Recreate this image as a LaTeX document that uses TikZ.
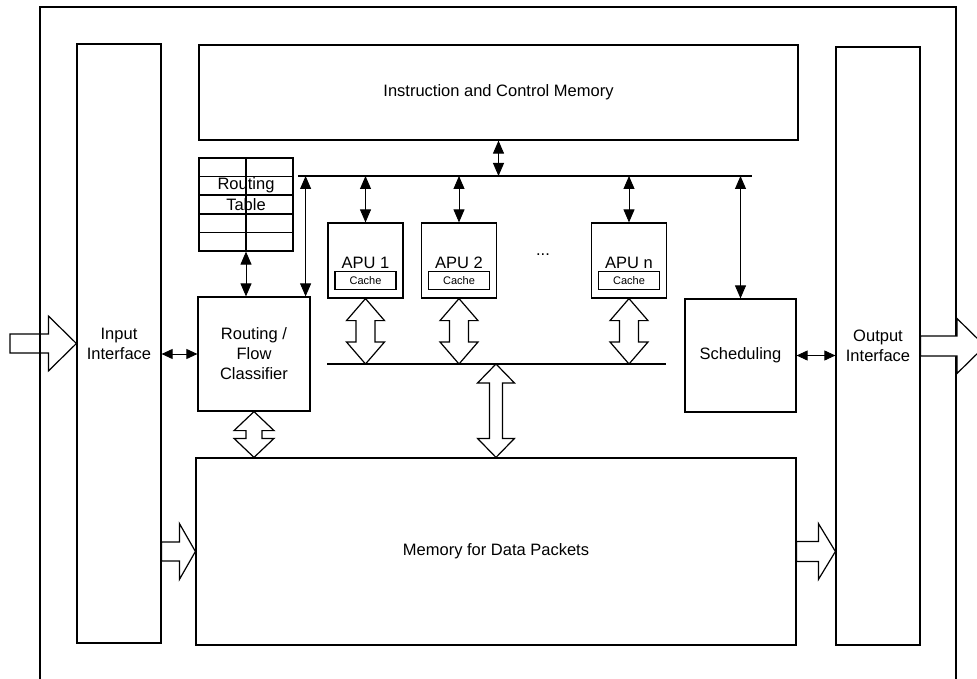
\documentclass[tikz,border=0pt]{standalone}
\usepackage{fontspec}
\setmainfont{Liberation Sans}
\usetikzlibrary{calc,arrows.meta}

\begin{document}
\begin{tikzpicture}[x=1pt,y=-1pt,
  font=\fontsize{16.5}{20}\selectfont, line width=1.2pt,
  box/.style={draw,fill=white,align=center,inner sep=0pt},
  cache/.style={draw,font=\fontsize{11}{13}\selectfont,minimum width=61pt,minimum height=18pt,inner sep=0pt},
  darr/.style={{Triangle[length=13pt,width=11pt]}-{Triangle[length=13pt,width=11pt]},line width=0.9pt},
  harr/.style={{Triangle[length=11pt,width=10pt]}-{Triangle[length=11pt,width=10pt]},line width=0.9pt},
  hollowv/.style n args={3}{fill=white,to path={let \p1=(\tikztostart),\p2=(\tikztotarget) in
    (\x1,\y1) -- (\x1+#1pt,\y1-#3pt) -- (\x1+#2pt,\y1-#3pt) -- (\x1+#2pt,\y2+#3pt) -- (\x1+#1pt,\y2+#3pt) -- (\x1,\y2)
    -- (\x1-#1pt,\y2+#3pt) -- (\x1-#2pt,\y2+#3pt) -- (\x1-#2pt,\y1-#3pt) -- (\x1-#1pt,\y1-#3pt) -- cycle}},
  hollowh/.style n args={3}{fill=white,to path={let \p1=(\tikztostart),\p2=(\tikztotarget) in
    (\x1,\y2+#2pt) -- (\x2-#3pt,\y2+#2pt) -- (\x2-#3pt,\y2+#1pt) -- (\x2,\y2) -- (\x2-#3pt,\y2-#1pt)
    -- (\x2-#3pt,\y2-#2pt) -- (\x1,\y2-#2pt) -- cycle}}]

  \clip (0,0) rectangle (977,679);

  % main blocks
  \node[box,minimum width=84pt,minimum height=599pt] (inp) at (119,343.5) {Input\\Interface};
  \node[box,minimum width=599pt,minimum height=95pt] (icm) at (498.5,92.5) {Instruction and Control Memory};
  \node[box,minimum width=84pt,minimum height=598pt] (outi) at (878,346) {Output\\Interface};
  \node[box,minimum width=112pt,minimum height=114pt] (rfc) at (254,354) {Routing /\\Flow\\Classifier};
  \node[box,minimum width=111pt,minimum height=113pt] (sched) at (740.5,355.5) {Scheduling};
  \node[box,minimum width=600pt,minimum height=187pt] (mem) at (496,551.5) {Memory for Data Packets};

  % routing table
  \node[box,minimum width=94pt,minimum height=93pt] (rtab) at (246,204.5) {};
  \foreach \i in {1,...,4}
    \draw ($(rtab.north west)!\i/5!(rtab.south west)$) -- ($(rtab.north east)!\i/5!(rtab.south east)$);
  \draw (rtab.north) -- (rtab.south);
  \node (rtab1) at ($(rtab.north)!0.3!(rtab.south)$) {Routing};
  \node (rtab2) at ($(rtab.north)!0.5!(rtab.south)$) {Table};

  % processing units
  \foreach \k/\x in {1/365.5,2/459,n/629} {
    \node[box,minimum width=75pt,minimum height=75pt] (apu\k) at (\x,260.5) {};
    \node[cache] (cache\k) at ([yshift=18pt]apu\k.south) {Cache};
    \node (apulbl\k) at ([yshift=36pt]apu\k.south) {APU \k};
  }
  \node (dots) at (543,255) {...};

  % buses
  \coordinate (tbusL) at (298,176);
  \coordinate (tbusR) at (752,176);
  \coordinate (lbusL) at (327,364);
  \coordinate (lbusR) at (666,364);
  \draw (tbusL) -- (tbusR);
  \draw (lbusL) -- (lbusR);

  \draw[darr] (icm.south) -- (icm.south |- tbusL);
  \draw[darr] (rtab.south) -- (rtab.south |- rfc.north);
  \draw[darr] ([xshift=-5pt]rfc.north east) -- ([xshift=-5pt]rfc.north east |- tbusL);
  \draw[darr] (sched.north) -- (sched.north |- tbusL);
  \foreach \k in {1,2,n}
    \draw[darr] (apu\k.north) -- (apu\k.north |- tbusL);
  \draw[harr] (inp.east |- rfc.west) -- (rfc.west);
  \draw[harr] (sched.east) -- (sched.east -| outi.west);

  % wide data paths
  \foreach \k in {1,2,n}
    \draw[hollowv={19}{9.5}{22}] (apu\k.south) to (apu\k.south |- lbusL);
  \draw[hollowv={18.5}{6.5}{19}] (mem.north |- lbusL) to (mem.north);
  \draw[hollowv={20}{8}{19}] (rfc.south) to (rfc.south |- mem.north);
  \draw[hollowh={28}{9.5}{16}] (inp.east |- mem.west) to (mem.west);
  \draw[hollowh={28}{10}{17}] (mem.east) to (mem.east -| outi.west);

  \coordinate (insrc) at (10,343.5);
  \coordinate (outdst) at (985,346);
  \draw[hollowh={27.5}{9.5}{28}] (insrc) to (inp.west);
  \draw (40,700) |- (956,7) -- (956,700);
  \draw[hollowh={27.5}{10}{28}] (outi.east) to (outdst);
\end{tikzpicture}
\end{document}
